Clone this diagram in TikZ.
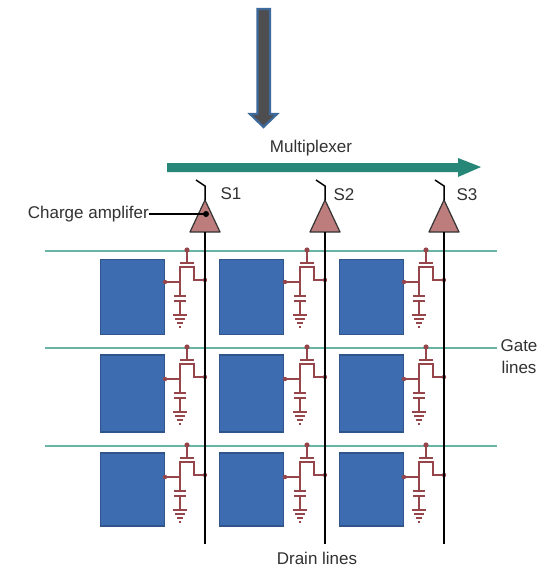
\documentclass[tikz,border=0pt]{standalone}
\usepackage{fontspec}
\setmainfont{Liberation Sans}
\definecolor{cellblue}{RGB}{62,108,176}
\definecolor{celledge}{RGB}{48,84,140}
\definecolor{teal1}{RGB}{105,180,165}
\definecolor{teal2}{RGB}{38,135,120}
\definecolor{wine}{RGB}{150,70,75}
\definecolor{tri}{RGB}{190,125,125}
\definecolor{txt}{RGB}{50,50,50}
\definecolor{steel}{RGB}{62,105,155}
\definecolor{grayfill}{RGB}{78,78,80}
\tikzset{
  gate/.style={teal1,line width=2pt},
  drain/.style={black,line width=1.5pt},
  circ/.style={wine,line width=1.5pt},
  cell/.style={draw=celledge,fill=cellblue,line width=1.2pt,minimum width=64pt,minimum height=75pt,inner sep=0pt,outer sep=0pt},
  lab/.style={font=\fontsize{17pt}{21.5pt}\selectfont,text=txt,inner sep=0pt},
  amp/.style={draw=black!80,fill=tri,line width=1.2pt,line join=round},
  swt/.style={black,line width=1.5pt},
}
% #1 = left x of cell, #2 = y of the row's gate line
\newcommand{\tftcell}[2]{%
  \begin{scope}[shift={(#1,#2)}]
    \fill[wine] (22,-1) circle (2.6pt) (0,31) circle (2.2pt) (40,29) circle (2.2pt);
    \draw[circ] (22,-1) -- (22,12) (15,12) -- (29,12);
    \draw[circ] (0,31) -- (15,31) -- (15,16) -- (29,16) -- (29,29) -- (40,29);
    \draw[circ] (15,31) -- (15,45) (9,45) -- (21,45) (9,50) -- (21,50) (15,50) -- (15,64);
    \draw[circ] (8,64) -- (22,64) (10,68) -- (20,68) (12,72) -- (18,72) (14,76) -- (16,76);
  \end{scope}}
\begin{document}
\begin{tikzpicture}[x=1pt,y=-1pt]
\useasboundingbox (0,0) rectangle (556,568);
\fill[white] (0,0) rectangle (556,568);
% top arrow
\draw[fill=grayfill,draw=steel,line width=2.2pt,line join=miter]
  (257.5,9) -- (270,9) -- (270,114) -- (277,114) -- (263.5,127) -- (250,114) -- (257.5,114) -- cycle;
% multiplexer arrow
\coordinate (mxa) at (167,167);
\coordinate (mxb) at (481,167);
\fill[teal2] (mxa) ++(0,-4) -- (458,163) -- (458,158) -- (mxb) -- (458,177) -- (458,172) -- (167,172) -- cycle;
\node[lab] (mux) at (311,148) {Multiplexer};
% gate lines
\foreach \yy/\nm in {251/ga,348/gb,446/gc}{
  \coordinate (\nm l) at (45,\yy);
  \coordinate (\nm r) at (497,\yy);
  \draw[gate] (\nm l) -- (\nm r);
}
% cells
\foreach \xx in {100.5,219.5,339.5}{
  \node[cell,anchor=north west] at (\xx,259.5) {};
  \node[cell,anchor=north west,minimum height=77pt] at (\xx,355) {};
  \node[cell,anchor=north west,minimum height=73pt] at (\xx,453) {};
}
\foreach \xx in {165,285,404}{
  \foreach \yy in {251,348,446}{
    \tftcell{\xx}{\yy}
  }
}
% drain lines, amplifiers, switches
\foreach \xx/\nm/\lbl/\lx/\ly in {205/a/S1/231/194,325/b/S2/344/195,444/c/S3/467/195}{
  \coordinate (d\nm) at (\xx,544);
  \coordinate (s\nm) at (\xx-9,180);
  \coordinate (t\nm) at (\xx,186);
  \draw[amp] (\xx,200) -- (\xx+15,232) -- (\xx-15,232) -- cycle;
  \draw[drain] (\xx,232) -- (d\nm);
  \draw[swt] (s\nm) -- (t\nm) -- (\xx,200);
  \node[lab] at (\lx,\ly) {\lbl};
}
\fill[black] (206,214) circle (3pt);
% labels
\node[lab,anchor=east] (ca) at (149,214) {Charge amplifer};
\coordinate (cae) at (206,214);
\draw[black,line width=1.5pt] (ca.east) -- (cae);
\node[lab,align=center] (gl) at (519,356.5) {Gate\\lines};
\node[lab] (dl) at (317,558) {Drain lines};
\end{tikzpicture}
\end{document}
